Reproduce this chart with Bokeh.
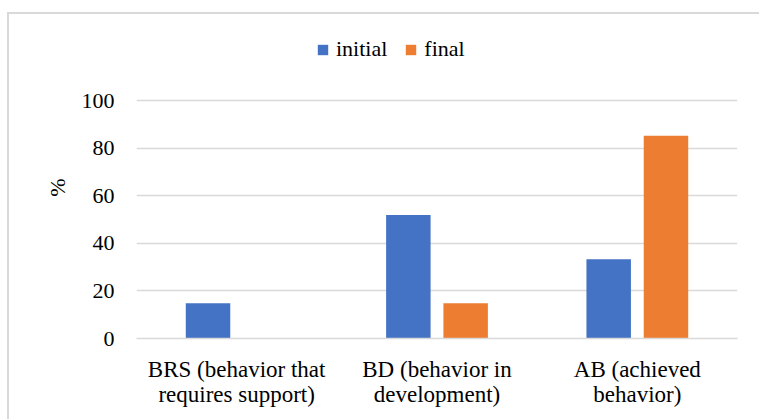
from bokeh.plotting import figure
from bokeh.models import FactorRange, Range1d, FixedTicker, Legend, LegendItem
from bokeh.transform import dodge
from bokeh.embed import file_html
from bokeh.resources import INLINE

# Share of children (%) at each behaviour level, before and after
categories = [
    "BRS (behavior that\nrequires support)",
    "BD (behavior in\ndevelopment)",
    "AB (achieved\nbehavior)",
]
initial = [14.8, 51.9, 33.3]
final = [0.0, 14.8, 85.2]
series_names = ["initial", "final"]
y_ticks = [0, 20, 40, 60, 80, 100]

BLUE = "#4472C4"
ORANGE = "#ED7D31"
GRID = "#d9d9d9"
FONT = "Liberation Serif"

# the y range runs past 100 so the legend can sit inside the frame, above the grid
p = figure(
    width=752, height=407,
    x_range=FactorRange(*categories),
    y_range=Range1d(0, 126.9),
    output_backend="svg",
    toolbar_location=None,
    min_border_left=129, min_border_right=22,
    min_border_top=24, min_border_bottom=81,
    outline_line_color=None,
    background_fill_color="white",
    border_fill_color=None,
)
# chart-area frame: thin grey edge along the left and top
p.margin = (12, 0, 0, 7)
p.styles = {"background-color": "white", "box-shadow": f"inset 2px 2px 0 0 {GRID}"}

src = dict(cat=categories, initial=initial, final=final)
r_init = p.vbar(x=dodge("cat", -0.143, range=p.x_range), top="initial", width=0.222,
                source=src, fill_color=BLUE, line_color=None)
r_fin = p.vbar(x=dodge("cat", 0.143, range=p.x_range), top="final", width=0.222,
               source=src, fill_color=ORANGE, line_color=None)

# axes
p.yaxis.ticker = FixedTicker(ticks=y_ticks)
p.yaxis.axis_line_color = None
p.yaxis.major_tick_line_color = None
p.yaxis.minor_tick_line_color = None
p.yaxis.major_label_standoff = 16
p.yaxis.major_label_text_font = FONT
p.yaxis.major_label_text_font_size = "22px"
p.yaxis.major_label_text_color = "black"
p.yaxis.axis_label = "%"
p.yaxis.axis_label_text_font = FONT
p.yaxis.axis_label_text_font_size = "22px"
p.yaxis.axis_label_text_font_style = "normal"
p.yaxis.axis_label_text_color = "black"
p.yaxis.axis_label_standoff = 9

p.xaxis.axis_line_color = GRID
p.xaxis.axis_line_width = 1.5
p.xaxis.major_tick_line_color = None
p.xaxis.minor_tick_line_color = None
p.xaxis.major_label_standoff = 12
p.xaxis.major_label_text_font = FONT
p.xaxis.major_label_text_font_size = "23px"
p.xaxis.major_label_text_color = "black"
p.xaxis.major_label_text_line_height = 1.0

p.xgrid.grid_line_color = None
p.ygrid.grid_line_color = GRID
p.ygrid.grid_line_width = 1.5

legend = Legend(
    items=[LegendItem(label=series_names[0], renderers=[r_init]),
           LegendItem(label=series_names[1], renderers=[r_fin])],
    orientation="horizontal",
    location=(180, 276),
    glyph_width=13, glyph_height=13,
    label_standoff=7, spacing=17,
    padding=0, margin=0,
    border_line_color=None, background_fill_alpha=0,
    label_text_font=FONT, label_text_font_size="22px", label_text_color="black",
)
p.add_layout(legend, "center")

open("out.html", "w").write(file_html(p, INLINE))
